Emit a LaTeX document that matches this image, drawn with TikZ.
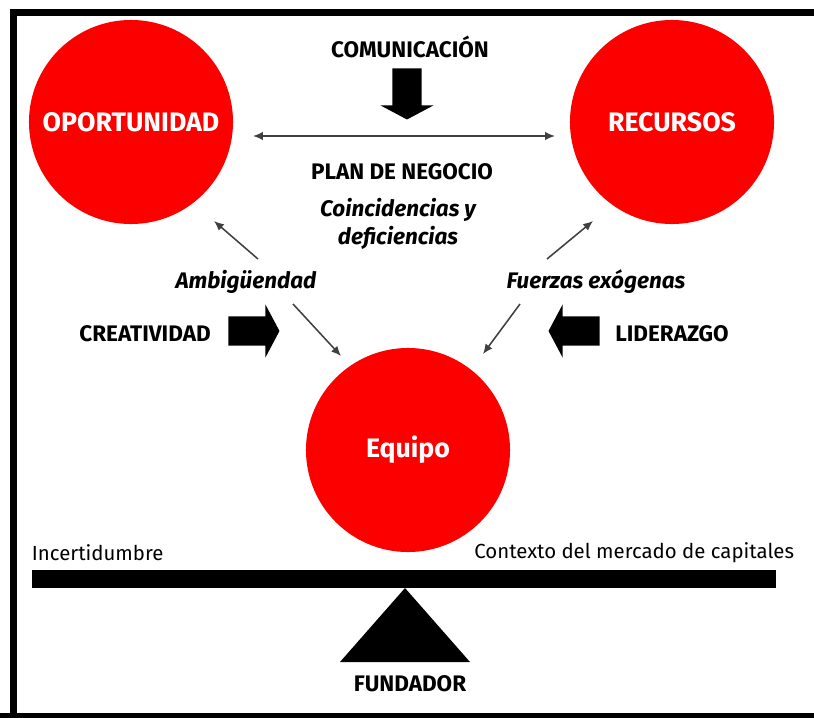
\documentclass[tikz,border=0pt]{standalone}
\usepackage{fontspec}
\setmainfont{Fira Sans}
\usetikzlibrary{shapes.arrows,arrows.meta}
\definecolor{bubblered}{RGB}{252,0,0}
\tikzset{
  bubble/.style={circle,fill=bubblered,minimum size=5.1cm,inner sep=0pt,text=white,
    font=\fontsize{19}{21}\selectfont\bfseries},
  caps/.style={font=\fontsize{16}{18}\selectfont\bfseries},
  slant/.style={font=\fontsize{16}{20}\selectfont\bfseries\itshape,align=center},
  plain/.style={font=\fontsize{14.5}{16}\selectfont},
  fatarrow/.style={single arrow,fill=black,inner sep=0.36cm,single arrow head extend=0.3cm,
    single arrow tip angle=124,minimum height=1.28cm},
  link/.style={-{Latex[length=7pt,width=6pt]},line width=1.1pt,draw=black!75},
  dlink/.style={{Latex[length=7pt,width=6pt]}-{Latex[length=7pt,width=6pt]},line width=1.1pt,draw=black!75},
}
\begin{document}
\begin{tikzpicture}[x=0.025cm,y=-0.025cm]
                \useasboundingbox (0,0) rectangle (814,717);
                \clip (0,0) rectangle (814,717);

                % Drawing frame
                \draw [line width=0.175cm] (13.5,730) -- (13.5,12.5) -- (830,12.5);%
                \draw [line width=0.175cm] (0,716.5) -- (830,716.5);%

                % Drawing circles
                \node [bubble] (opp) at (131,122) {OPORTUNIDAD};%
                \node [bubble] (rec) at (672,122) {RECURSOS};%
                \node [bubble] (team) at (408,450) {Equipo};%

                % Drawing top block
                \node [caps] (comm) at (410,47) {COMUNICACIÓN};%
                \node [fatarrow,shape border rotate=270,anchor=tail] (commarrow) at (407,68) {};%
                \coordinate (dl) at (253,136);%
                \coordinate (dr) at (555,136);%
                \draw [dlink] (dl) -- (dr);%
                \node [caps] (plan) at (402,172) {PLAN DE NEGOCIO};%
                \node [slant] (coin) at (398,224) {Coincidencias y\\deficiencias};%

                % Drawing side labels
                \node [slant] (amb) at (246,282) {Ambigüendad};%
                \node [slant] (fuer) at (596,282) {Fuerzas exógenas};%
                \node [caps] (crea) at (145,334) {CREATIVIDAD};%
                \node [caps] (lid) at (672,334) {LIDERAZGO};%
                \node [fatarrow,anchor=tail] (creaarrow) at (228,331) {};%
                \node [fatarrow,shape border rotate=180,anchor=tail] (lidarrow) at (600,331) {};%

                % Drawing thin arrows
                \coordinate (a1) at (258,259);%
                \coordinate (a1t) at (214,221);%
                \coordinate (a2) at (293,304);%
                \coordinate (a2t) at (341,356);%
                \coordinate (f1) at (547,259);%
                \coordinate (f1t) at (593,221);%
                \coordinate (f2) at (520,304);%
                \coordinate (f2t) at (483,354);%
                \draw [link] (a1) -- (a1t);%
                \draw [link] (a2) -- (a2t);%
                \draw [link] (f1) -- (f1t);%
                \draw [link] (f2) -- (f2t);%

                % Drawing lever
                \node [plain,anchor=west] (inc) at (27,553) {Incertidumbre};%
                \node [plain,anchor=east] (ctx) at (799,553) {Contexto del mercado de capitales};%
                \fill (32,570) rectangle (776,588);%
                \fill (405,588) -- (470,662) -- (340,662) -- cycle;%
                \node [caps] (fund) at (410,684) {FUNDADOR};%
\end{tikzpicture}
\end{document}
